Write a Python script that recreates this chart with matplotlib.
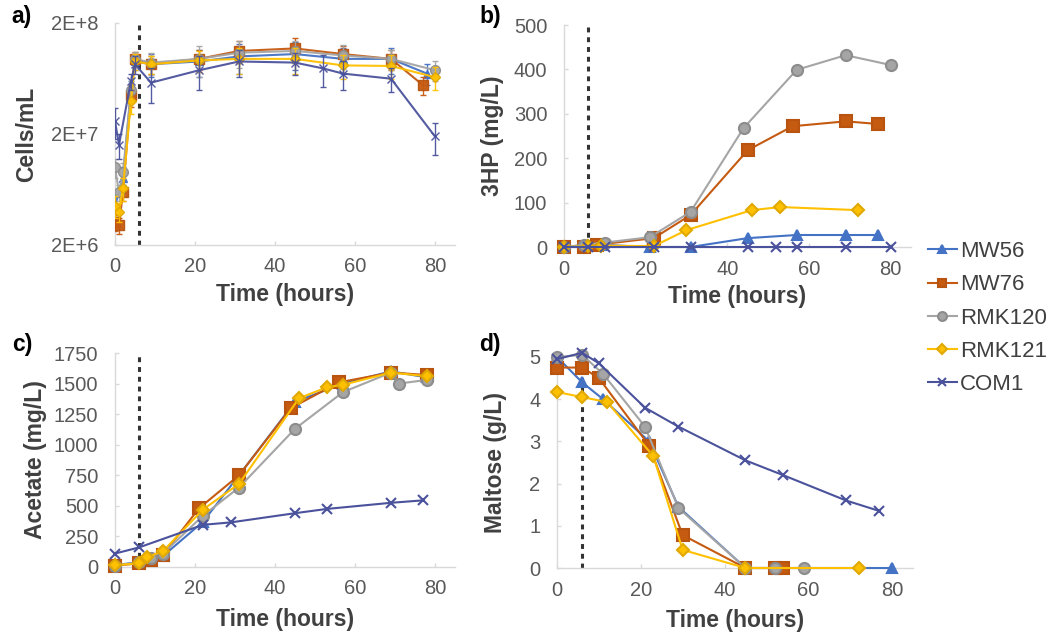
import matplotlib
matplotlib.use("Agg")
import matplotlib.pyplot as plt
import numpy as np

plt.rcParams['font.family'] = ['Liberation Sans', 'DejaVu Sans']

# ---------------- data ----------------
strains = ["MW56", "MW76", "RMK120", "RMK121", "COM1"]
colors = ["#4472C4", "#C55A11", "#A5A5A5", "#FFC000", "#4B529C"]
edgecolors = ["#4472C4", "#B85410", "#8C8C8C", "#E0A800", "#4B529C"]
markers = ["^", "s", "o", "D", "x"]
msizes = [7, 8, 8, 6, 7]

induction_time = 6

# a) Cells/mL
a_t = {
    "MW56":   [0, 2, 4, 5, 9, 21, 31, 45, 57, 69, 78],
    "MW76":   [0, 1, 2, 4, 5, 9, 21, 31, 45, 57, 69, 77],
    "RMK120": [0, 1, 2, 4, 5, 9, 21, 31, 45, 57, 69, 80],
    "RMK121": [0, 1, 2, 4, 5, 9, 21, 31, 45, 57, 69, 80],
    "COM1":   [0, 1, 4, 5, 9, 21, 31, 45, 52, 57, 69, 80],
}
a_v = {
    "MW56":   [4.5e6, 8e6, 5e7, 9e7, 8.5e7, 9e7, 1.0e8, 1.05e8, 9.5e7, 9.5e7, 7e7],
    "MW76":   [3.2e6, 3.0e6, 6e6, 4.5e7, 9.5e7, 8.5e7, 9.5e7, 1.12e8, 1.18e8, 1.05e8, 9.5e7, 5.5e7],
    "RMK120": [1.0e7, 6e6, 9e6, 5e7, 9.5e7, 8.8e7, 9.5e7, 1.08e8, 1.12e8, 1.02e8, 9.5e7, 7.5e7],
    "RMK121": [4.5e6, 4.0e6, 6.5e6, 4e7, 9e7, 8.5e7, 9.2e7, 9.5e7, 9.5e7, 8.3e7, 8.2e7, 6.5e7],
    "COM1":   [2.6e7, 1.6e7, 6e7, 8.5e7, 5.8e7, 7.5e7, 9e7, 8.8e7, 7.8e7, 7.0e7, 6.3e7, 1.9e7],
}
a_sd = {
    "MW56":   [1e6, 2e6, 1e7, 1.5e7, 2e7, 2.5e7, 3e7, 3e7, 2.5e7, 2.5e7, 1.5e7],
    "MW76":   [5e5, 5e5, 1e6, 1e7, 1.5e7, 1.5e7, 2e7, 2.5e7, 3e7, 2e7, 2e7, 1e7],
    "RMK120": [2e6, 1e6, 2e6, 1e7, 1.5e7, 2e7, 3e7, 3e7, 2.5e7, 2.5e7, 2e7, 1.5e7],
    "RMK121": [1e6, 8e5, 1.5e6, 1e7, 1.5e7, 1.5e7, 2e7, 2.5e7, 2.5e7, 2e7, 2e7, 1.5e7],
    "COM1":   [8e6, 4e6, 1e7, 1.5e7, 2e7, 2.5e7, 2.5e7, 2e7, 2.5e7, 2e7, 1.5e7, 6e6],
}

# b) 3HP (mg/L)
b_t = {
    "MW56":   [0, 6, 9, 21, 31, 45, 57, 69, 77],
    "MW76":   [0, 5, 8, 22, 31, 45, 56, 69, 77],
    "RMK120": [0, 5, 10, 21, 31, 44, 57, 69, 80],
    "RMK121": [0, 6, 9, 22, 30, 46, 53, 72],
    "COM1":   [0, 6, 10, 22, 31, 45, 52, 57, 69, 80],
}
b_v = {
    "MW56":   [0, 5, 5, 0, 0, 20, 27, 27, 27],
    "MW76":   [0, 0, 5, 20, 72, 218, 272, 283, 277],
    "RMK120": [0, 5, 10, 22, 79, 268, 399, 432, 410],
    "RMK121": [0, 2, 3, 2, 38, 83, 90, 83],
    "COM1":   [0, 0, 0, 0, 0, 0, 0, 0, 0, 0],
}

# c) Acetate (mg/L)
c_t = {
    "MW56":   [0, 6, 9, 12, 22, 31, 45, 57, 69, 78],
    "MW76":   [0, 6, 9, 12, 21, 31, 44, 56, 69, 78],
    "RMK120": [0, 6, 9, 12, 22, 31, 45, 57, 69, 71, 78],
    "RMK121": [0, 6, 8, 12, 22, 31, 46, 53, 57, 69, 78],
    "COM1":   [0, 6, 22, 29, 45, 53, 69, 77],
}
c_v = {
    "MW56":   [15, 40, 70, 90, 370, 750, 1350, 1500, 1600, 1550],
    "MW76":   [10, 30, 60, 100, 480, 750, 1300, 1510, 1590, 1570],
    "RMK120": [10, 40, 70, 110, 420, 650, 1130, 1430, 1590, 1500, 1530],
    "RMK121": [15, 30, 80, 130, 470, 680, 1380, 1470, 1490, 1590, 1560],
    "COM1":   [110, 160, 345, 365, 440, 475, 525, 545],
}

# d) Maltose (g/L)
d_t = {
    "MW56":   [0, 6, 11, 22, 29, 45, 80],
    "MW76":   [0, 6, 10, 22, 30, 45, 52, 54],
    "RMK120": [0, 6, 11, 21, 29, 45, 52, 59],
    "RMK121": [0, 6, 12, 23, 30, 45, 72],
    "COM1":   [0, 6, 10, 21, 29, 45, 54, 69, 77],
}
d_v = {
    "MW56":   [5.0, 4.4, 4.0, 3.0, 1.45, 0, 0],
    "MW76":   [4.75, 4.75, 4.5, 2.9, 0.78, 0, 0, 0],
    "RMK120": [5.0, 5.05, 4.6, 3.35, 1.42, 0, 0, 0],
    "RMK121": [4.17, 4.05, 3.93, 2.65, 0.43, 0, 0],
    "COM1":   [4.95, 5.1, 4.85, 3.8, 3.35, 2.55, 2.2, 1.6, 1.35],
}

# ---------------- figure ----------------
fig = plt.figure(figsize=(10.5, 6.38), dpi=100)
W, H = 1050, 638

def ax_at(l, t, r, b):
    return fig.add_axes([l / W, 1 - b / H, (r - l) / W, (b - t) / H])

axA = ax_at(115, 23, 455, 245)
axB = ax_at(564, 25, 911, 247)
axC = ax_at(115, 353, 455, 567)
axD = ax_at(557, 357, 913, 568)

tick_col = "#595959"
spine_col = "#D9D9D9"

def style(ax, ylabel, letter, letter_xy, ylab_x, xlab_y):
    for s in ["top", "right"]:
        ax.spines[s].set_visible(False)
    for s in ["left", "bottom"]:
        ax.spines[s].set_color(spine_col)
        ax.spines[s].set_linewidth(1.0)
    ax.tick_params(axis="both", colors=spine_col, labelcolor=tick_col,
                   labelsize=14.5, length=3, width=1, direction="in")
    ax.tick_params(axis="x", pad=9)
    ax.tick_params(axis="y", pad=12)
    ax.set_xlim(0, 85)
    ax.set_xticks([0, 20, 40, 60, 80])
    ax.set_xlabel("Time (hours)", fontsize=16.5, fontweight="bold",
                  color="#404040")
    ax.set_ylabel(ylabel, fontsize=16.5, fontweight="bold", color="#404040")
    ax.yaxis.set_label_coords(ylab_x, 0.5)
    ax.xaxis.set_label_coords(0.5, xlab_y)
    fig.text(letter_xy[0] / W, 1 - letter_xy[1] / H, letter, fontsize=16.5,
             fontweight="bold", color="black", ha="center", va="center")
    ax.axvline(induction_time, color="#333333", lw=2.2,
               linestyle=(0, (1.6, 1.6)), zorder=1)

handles = []
for i, s in enumerate(strains):
    mfc = colors[i]
    # a) with error bars
    axA.errorbar(a_t[s], a_v[s], yerr=a_sd[s], color=colors[i],
                 marker=markers[i], ms=msizes[i] - 1, mfc=mfc,
                 mec=edgecolors[i], lw=1.5, ecolor=colors[i],
                 elinewidth=1.0, capsize=2.5, zorder=3 + i, alpha=0.95)
    # b)
    h, = axB.plot(b_t[s], b_v[s], color=colors[i], marker=markers[i],
                  ms=msizes[i], mfc=mfc, mec=edgecolors[i], mew=1.5,
                  lw=1.5, zorder=3 + i, clip_on=False, label=s)
    handles.append(h)
    # c)
    axC.plot(c_t[s], c_v[s], color=colors[i], marker=markers[i],
             ms=msizes[i], mfc=mfc, mec=edgecolors[i], mew=1.5,
             lw=1.5, zorder=3 + i, clip_on=False)
    # d)
    axD.plot(d_t[s], d_v[s], color=colors[i], marker=markers[i],
             ms=msizes[i], mfc=mfc, mec=edgecolors[i], mew=1.5,
             lw=1.5, zorder=3 + i, clip_on=False)

axA.set_yscale("log")
axA.set_ylim(2e6, 2e8)
axA.set_yticks([2e6, 2e7, 2e8])
axA.set_yticklabels(["2E+6", "2E+7", "2E+8"])
axA.minorticks_off()
style(axA, "Cells/mL", "a)", (22, 17), -0.226, -0.17)

axB.set_ylim(0, 500)
axB.set_yticks([0, 100, 200, 300, 400, 500])
style(axB, "3HP (mg/L)", "b)", (490, 17), -0.173, -0.17)

axC.set_ylim(0, 1750)
axC.set_yticks([0, 250, 500, 750, 1000, 1250, 1500, 1750])
style(axC, "Acetate (mg/L)", "c)", (22, 344), -0.2, -0.19)

axD.set_ylim(0, 5)
axD.set_yticks([0, 1, 2, 3, 4, 5])
style(axD, "Maltose (g/L)", "d)", (490, 345), -0.14, -0.195)

fig.legend(handles=handles, labels=strains, loc="center left",
           bbox_to_anchor=(928 / W, 1 - 318 / H), frameon=False,
           fontsize=16, handlelength=1.3, handletextpad=0.15,
           labelspacing=0.55, borderpad=0, borderaxespad=0, markerscale=0.8,
           labelcolor="#404040")

fig.savefig("out.png", dpi=100)
